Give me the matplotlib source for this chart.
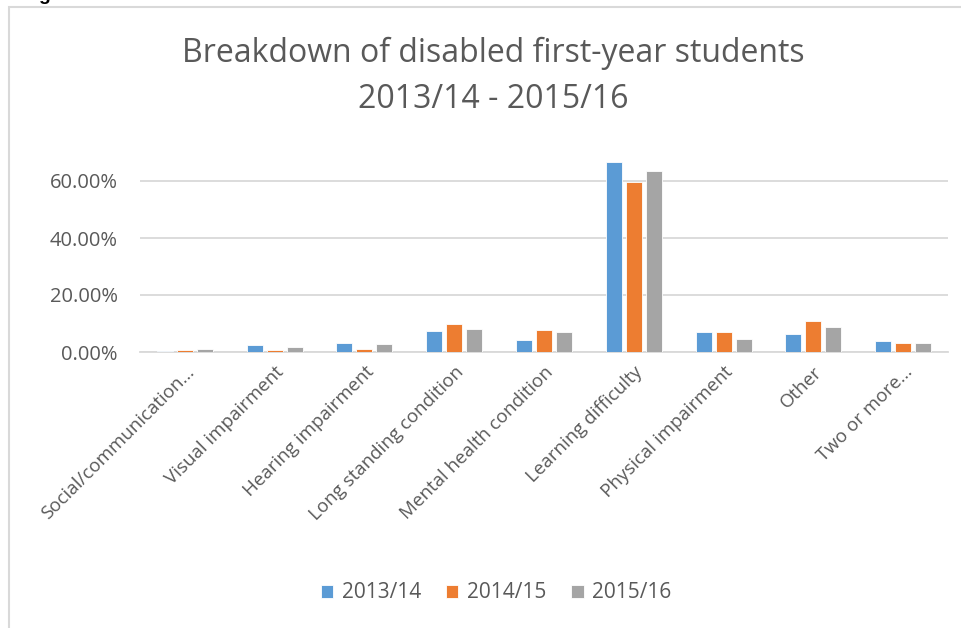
import matplotlib
matplotlib.use("Agg")
import matplotlib.pyplot as plt
import numpy as np
from matplotlib.patches import Rectangle
from matplotlib.ticker import FuncFormatter

categories = ["Social/communication…", "Visual impairment", "Hearing impairment",
              "Long standing condition", "Mental health condition", "Learning difficulty",
              "Physical impairment", "Other", "Two or more…"]
series_names = ["2013/14", "2014/15", "2015/16"]
v2013 = [0.4, 2.3, 3.0, 7.4, 4.1, 66.6, 7.0, 6.3, 3.9]
v2014 = [0.8, 0.8, 1.2, 9.7, 7.7, 59.6, 7.1, 10.8, 3.3]
v2015 = [1.1, 1.9, 2.9, 8.1, 7.1, 63.6, 4.6, 8.7, 3.1]
colors = ["#5B9BD5", "#ED7D31", "#A5A5A5"]

plt.rcParams['font.family'] = ['Open Sans', 'DejaVu Sans']
W, H = 961, 628
fig = plt.figure(figsize=(W / 100, H / 100), dpi=100)

# outer chart border (partially cropped)
fig.patches.append(Rectangle((8.5 / W, -0.1), 1.2, (H - 7) / H + 0.1, transform=fig.transFigure,
                             fill=False, edgecolor="#D9D9D9", linewidth=1.5))
# cropped heading letter
fig.text(38 / W, 1 - 0.5 / H, "g", family="Liberation Sans", fontweight="bold",
         fontsize=14, color="black", ha="left", va="baseline")

left, right = 140, 948
bottom_px, top_px = 352, 152.5
ax = fig.add_axes([left / W, 1 - bottom_px / H, (right - left) / W, (bottom_px - top_px) / H])

x = np.arange(len(categories))
bw = 0.178
off = 0.223
for i, (vals, c, n) in enumerate(zip([v2013, v2014, v2015], colors, series_names)):
    ax.bar(x + (i - 1) * off, np.array(vals) / 100, bw, color=c, label=n,
           edgecolor="white", linewidth=0.6, zorder=3)

ax.set_xlim(-0.5, len(categories) - 0.5)
ax.set_ylim(0, 0.7)
ax.set_yticks([0, 0.2, 0.4, 0.6])
ax.yaxis.set_major_formatter(FuncFormatter(lambda v, p: f"{v * 100:.2f}%"))
ax.grid(axis="y", color="#D9D9D9", linewidth=1.3, zorder=0)
for s in ["top", "right", "left"]:
    ax.spines[s].set_visible(False)
ax.spines["bottom"].set_color("#D9D9D9")
ax.spines["bottom"].set_linewidth(1.3)
ax.tick_params(axis="y", length=0, pad=16, labelsize=14.5, labelcolor="#595959")
ax.tick_params(axis="x", length=0, pad=8)
ax.set_xticks(x)
ax.set_xticklabels(categories, rotation=45, ha="right", va="top", rotation_mode="anchor",
                   fontsize=13.5, color="#595959")

fig.text(493 / W, 1 - 62 / H, "Breakdown of disabled first-year students", ha="center",
         va="baseline", fontsize=23, color="#595959")
fig.text(493 / W, 1 - 108 / H, "2013/14 - 2015/16", ha="center", va="baseline",
         fontsize=23, color="#595959")

leg = fig.legend(loc="center", bbox_to_anchor=(496 / W, 1 - 593 / H), ncol=3, frameon=False,
                 fontsize=15, handlelength=0.6, handleheight=0.6, handletextpad=0.4,
                 columnspacing=1.2)
for t in leg.get_texts():
    t.set_color("#595959")

fig.savefig("out.png", dpi=100)
